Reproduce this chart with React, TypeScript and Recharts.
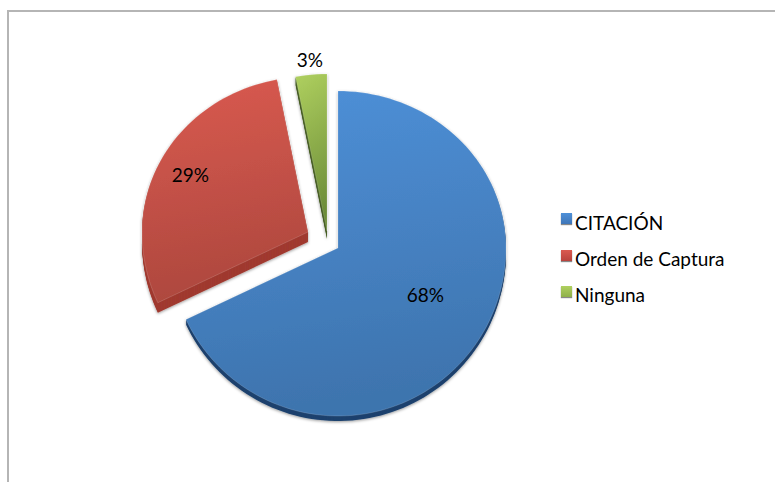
import { PieChart, Pie, Cell, Legend } from 'recharts';

const CATEGORIES = ['CITACIÓN', 'Orden de Captura', 'Ninguna'];
const SHARES = [68, 29, 3];

const TOP_COLORS = ['#4E90D8', '#DA5A50', '#AFD05F'];
const BOTTOM_COLORS = ['#3E74AE', '#AE483E', '#6C8C38'];
const SIDE_COLORS = ['#1D426E', '#A03A30', '#475E24'];
const LEGEND_COLORS = ['#3F76B8', '#B8433D', '#8FB04A'];

// how far each slice is pulled out of the pie, and how thick it looks
const EXPLODE = [
  [0, 0],
  [-30, -16],
  [-11, -17],
];
const DEPTH = [5, 10, 8];
const RADIUS_TRIM = [0, 2, 0];
const LABEL_RADIUS = [100, 131, 172];
const LABEL_NUDGE = [
  [3, -7],
  [-1, 2],
  [-1, 0],
];
const UPPER_SQUASH = 157 / 168;

const FONT = 'Lato, "Open Sans", sans-serif';
const CENTER_X = 338;
const CENTER_Y = 248;

const rows = CATEGORIES.map((name, i) => ({ name, value: SHARES[i] }));

function slicePath(cx: number, cy: number, r: number, start: number, end: number) {
  const steps = Math.max(2, Math.ceil(Math.abs(end - start) / 2));
  let d = `M${cx},${cy}`;
  for (let i = 0; i <= steps; i++) {
    const a = ((start + ((end - start) * i) / steps) * Math.PI) / 180;
    const sin = Math.sin(a);
    d += ` L${cx + r * Math.cos(a)},${cy - r * sin * (sin > 0 ? UPPER_SQUASH : 1)}`;
  }
  return d + ' Z';
}

function Slice(props: any) {
  const i = CATEGORIES.indexOf(props.name);
  const cx = props.cx + EXPLODE[i][0];
  const cy = props.cy + EXPLODE[i][1];
  const d = slicePath(cx, cy, props.outerRadius - RADIUS_TRIM[i], props.startAngle, props.endAngle);
  const layers = [];
  for (let k = DEPTH[i]; k >= 1; k--) {
    layers.push(<path key={k} d={d} fill={SIDE_COLORS[i]} transform={`translate(0,${k})`} />);
  }
  return (
    <g filter="url(#pieShadow)">
      {layers}
      <path d={d} fill={`url(#sliceFill${i})`} stroke="#fff" strokeOpacity={0.15} strokeWidth={1} />
    </g>
  );
}

function SliceLabel(props: any) {
  const i = props.index;
  const a = (props.midAngle * Math.PI) / 180;
  const x = props.cx + EXPLODE[i][0] + LABEL_NUDGE[i][0] + LABEL_RADIUS[i] * Math.cos(a);
  const y = props.cy + EXPLODE[i][1] + LABEL_NUDGE[i][1] - LABEL_RADIUS[i] * Math.sin(a);
  return (
    <text x={x} y={y} textAnchor="middle" dominantBaseline="central" fontFamily={FONT} fontSize={19} fill="#000">
      {`${SHARES[i]}%`}
    </text>
  );
}

function LegendBox() {
  return (
    <div style={{ fontFamily: FONT, fontSize: 19, color: '#000' }}>
      {CATEGORIES.map((name, i) => (
        <div key={name} style={{ display: 'flex', alignItems: 'center', height: 36.4 }}>
          <span
            style={{
              width: 11,
              height: 11,
              marginRight: 3,
              marginTop: -7,
              background: `linear-gradient(${TOP_COLORS[i]}, ${LEGEND_COLORS[i]})`,
              boxShadow: '0 1px 1px #888',
            }}
          />
          {name}
        </div>
      ))}
    </div>
  );
}

export default function App() {
  return (
    <div style={{ position: 'absolute', left: 0, top: 0, width: 775, height: 482, background: '#fff', overflow: 'hidden' }}>
      <div
        style={{
          position: 'absolute',
          left: 7,
          top: 10,
          right: 0,
          bottom: 0,
          borderTop: '2px solid #b5b5b5',
          borderLeft: '2px solid #b5b5b5',
        }}
      />
      <PieChart width={775} height={482} margin={{ top: 0, right: 0, bottom: 0, left: 0 }} style={{ position: 'absolute' }}>
        <defs>
          <filter id="pieShadow" x="-10%" y="-10%" width="120%" height="120%">
            <feDropShadow dx="0" dy="1" stdDeviation="1.5" floodColor="#000" floodOpacity="0.4" />
          </filter>
          {CATEGORIES.map((name, i) => (
            <linearGradient key={name} id={`sliceFill${i}`} x1="0" y1="0" x2="0.15" y2="1">
              <stop offset="0%" stopColor={TOP_COLORS[i]} />
              <stop offset="100%" stopColor={BOTTOM_COLORS[i]} />
            </linearGradient>
          ))}
        </defs>
        <Pie
          data={rows}
          dataKey="value"
          nameKey="name"
          cx={CENTER_X}
          cy={CENTER_Y}
          innerRadius={0}
          outerRadius={168}
          startAngle={90}
          endAngle={-270}
          stroke="none"
          shape={Slice}
          label={SliceLabel}
          labelLine={false}
          isAnimationActive={false}
        >
          {rows.map((row) => (
            <Cell key={row.name} />
          ))}
        </Pie>
        <Legend
          content={LegendBox}
          layout="vertical"
          wrapperStyle={{ position: 'absolute', left: 561, top: 204, width: 200, bottom: 'auto' }}
        />
      </PieChart>
    </div>
  );
}
